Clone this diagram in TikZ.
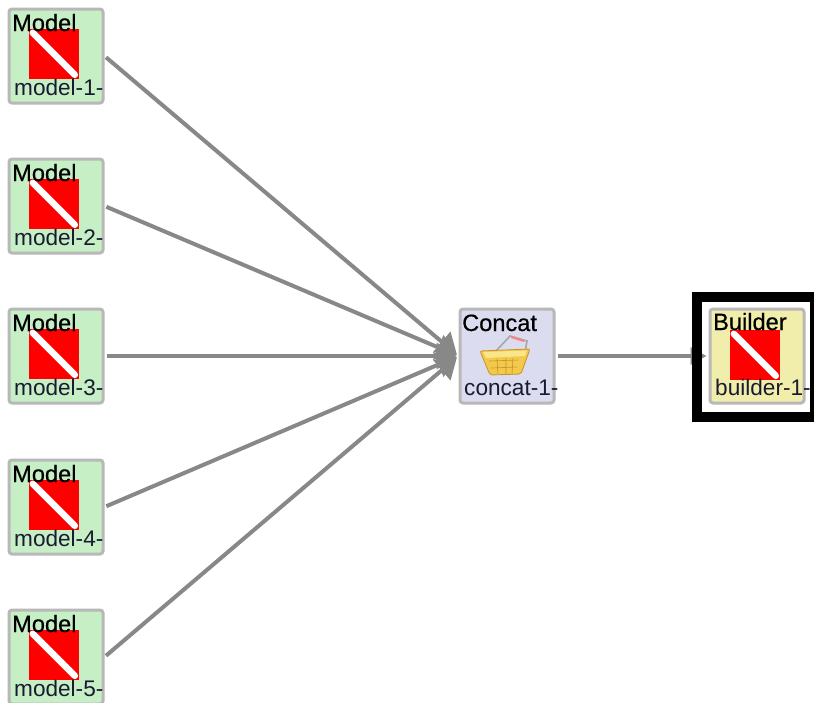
\documentclass[tikz,border=0pt]{standalone}
\usepackage{fontspec}
\setmainfont{Liberation Sans}
\newfontfamily\titlefam[FakeBold=0.5]{Liberation Sans}
\usetikzlibrary{arrows.meta}
\definecolor{edgegray}{HTML}{888888}
\definecolor{boxgray}{HTML}{B8B8B8}
\definecolor{greenfill}{HTML}{C6EFC6}
\definecolor{bluefill}{HTML}{DCDCF0}
\definecolor{yellowfill}{HTML}{F0EEAA}
\definecolor{textdark}{HTML}{1A1A30}
\definecolor{basketyellow}{HTML}{F2C94A}
\definecolor{basketdark}{HTML}{C8922A}
\definecolor{basketlight}{HTML}{FBE58A}
\tikzset{
  x=1pt,y=-1pt,
  compbox/.style={draw=boxgray,line width=3pt,rounded corners=3pt,minimum width=94pt,minimum height=94pt,inner sep=0pt,outer sep=1.5pt},
  redicon/.style={fill=red,minimum width=50pt,minimum height=50pt,inner sep=0pt},
  slash/.style={white,line width=6.5pt,line cap=round},
  titletext/.style={anchor=base west,inner sep=0pt,text=black,font=\titlefam\fontsize{23.6}{24}\selectfont},
  nametext/.style={anchor=base west,inner sep=0pt,text=textdark,font=\fontsize{22.6}{23}\selectfont},
  bigedge/.style={draw=edgegray,line width=4pt,-{Triangle[length=20pt,width=26pt]},shorten >=2pt,shorten <=2pt},
  smalledge/.style={draw=edgegray,line width=3.2pt,-{Triangle[length=16pt,width=17pt]},shorten >=2pt,shorten <=2pt}
}
\begin{document}
\begin{tikzpicture}
\useasboundingbox (0,0) rectangle (814,702);
\clip (0,0) rectangle (814,702);
\fill[white] (0,0) rectangle (814,702);

% model components
\foreach \i/\y in {1/56,2/206,3/356,4/507,5/657}{
  \node[compbox,fill=greenfill] (m\i) at (56,\y) {};
  \node[redicon] (r\i) at (54,\y-2) {};
  \draw[slash] (r\i.north west) ++(4,4) -- ++(42,42);
  \node[titletext] (mt\i) at (12,\y-25) {Model};
  \node[nametext] (mn\i) at (14,\y+39) {model-\i-};
}

% concat component
\node[compbox,fill=bluefill] (concat) at (507,356) {};
\node[titletext] (ct) at (462,331) {Concat};
\node[nametext] (cn) at (464,395) {concat-1-};
% basket icon
\draw[line width=1.6pt,draw=gray!70] (496,351) -- (510,336) -- (527,341) -- (525,352);
\draw[line width=2pt,draw=red!50] (511,337) -- (524,341);
\fill[basketyellow,draw=basketdark,line width=.8pt,rounded corners=2pt]
  (480,351) -- (530,349) -- (521,374) -- (490,375) -- cycle;
\fill[basketlight] (483,352) -- (527,350.5) -- (525,356) -- (486,358) -- cycle;
\draw[basketdark,line width=.6pt] (489,361) -- (518,360) (491,368) -- (517,367) (497,359) -- (498,374) (506,358) -- (506,374) (513,358) -- (512,374);

% builder component
\node[compbox,fill=yellowfill] (builder) at (757,356) {};
\node[redicon] (br) at (755,355) {};
\draw[slash] (br.north west) ++(4,4) -- ++(42,42);
\node[titletext] (bt) at (713,330) {Builder};
\node[nametext] (bn) at (715,395) {builder-1-};

% connectors
\foreach \i in {1,...,5}{
  \draw[bigedge] (m\i.east) -- (concat.west);
}
\draw[smalledge] (concat.east) -- (builder.west);

% selection frame
\node[draw=black,line width=10pt,minimum width=118pt,minimum height=120pt,inner sep=0pt] (frame) at (756,356.5) {};
\end{tikzpicture}
\end{document}
